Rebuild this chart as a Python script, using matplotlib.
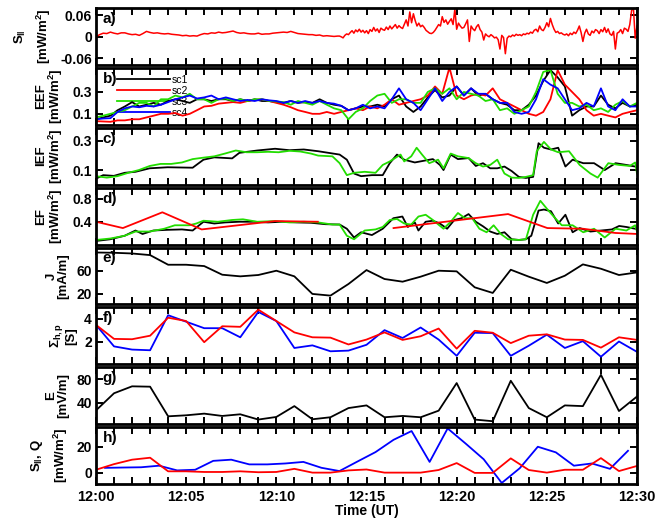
import numpy as np
import matplotlib
matplotlib.use("Agg")
import matplotlib.pyplot as plt
from matplotlib.ticker import FixedLocator, FuncFormatter

plt.rcParams['font.family'] = ['Liberation Sans', 'DejaVu Sans']
plt.rcParams['font.weight'] = 'bold'
plt.rcParams['mathtext.fontset'] = 'custom'
plt.rcParams['mathtext.rm'] = 'Liberation Sans:bold'
plt.rcParams['mathtext.bf'] = 'Liberation Sans:bold'
plt.rcParams['mathtext.it'] = 'Liberation Sans:bold'

# ---------------- data (time in minutes after 12:00 UT) ----------------
# a) S_parallel: quiet part sampled every 0.2 min, active part every 0.1 min
ta = np.concatenate([np.arange(68) * 0.2, 13.5 + np.arange(166) * 0.1])
sa = [0.0, 0.006, 0.010, 0.009, 0.013, 0.010, 0.008, 0.011, 0.011, 0.008,
      0.006, 0.007, 0.004, 0.009, 0.015, 0.012, 0.010, 0.011, 0.009, 0.008,
      0.009, 0.007, 0.006, 0.005, 0.003, 0.004, 0.002, 0.003, 0.002, 0.006,
      0.009, 0.008, 0.011, 0.010, 0.013, 0.011, 0.012, 0.014, 0.016, 0.012,
      0.010, 0.011, 0.009, 0.008, 0.008, 0.010, 0.007, 0.008, 0.008, 0.010,
      0.011, 0.012, 0.013, 0.012, 0.015, 0.012, 0.009, 0.008, 0.007, 0.006,
      0.006, 0.004, 0.005, 0.002, 0.003, 0.002, 0.001, 0.002,
      # 13.5 - 13.9
      0.002, 0.0, -0.003, 0.004, 0.008,
      # 14.0 - 29.9
      0.006, 0.012, 0.017, 0.010, 0.019, 0.014, 0.021, 0.013, 0.018, 0.011,
      0.017, 0.009, 0.020, 0.015, 0.026, 0.016, 0.022, 0.012, 0.024, 0.020,
      0.018, 0.027, 0.020, 0.030, 0.022, 0.028, 0.034, 0.024, 0.031, 0.026,
      0.023, 0.035, 0.047, 0.030, 0.069, 0.039, 0.064, 0.045, 0.030, 0.038,
      0.028, 0.032, 0.026, 0.018, 0.014, 0.010, 0.009, 0.012, 0.018, 0.026,
      0.034, 0.030, 0.056, 0.040, 0.047, 0.035, 0.043, 0.050, 0.034, 0.077,
      0.021, 0.038, 0.030, 0.024, 0.026, 0.036, 0.047, -0.013, 0.030, 0.022,
      0.017, 0.028, 0.034, 0.020, 0.013, -0.009, 0.008, 0.003, 0.0, 0.006,
      0.002, -0.003, -0.001, -0.008, -0.034, 0.004, -0.002, -0.047, -0.004, 0.002,
      0.0, 0.005, 0.002, 0.007, 0.004, 0.006, 0.003, 0.008, 0.006, 0.010,
      0.008, 0.013, 0.010, 0.018, 0.021, 0.014, 0.030, 0.020, 0.017, 0.026,
      0.039, 0.028, 0.051, 0.034, 0.021, 0.012, 0.015, 0.009, 0.011, 0.007,
      0.005, 0.008, 0.003, 0.010, 0.006, 0.013, 0.009, 0.018, 0.030, 0.012,
      -0.013, 0.010, 0.021, 0.008, 0.004, 0.016, 0.011, 0.020, 0.017, 0.009,
      0.020, 0.014, 0.026, 0.012, 0.022, 0.008, 0.004, 0.015, -0.034, 0.010,
      0.013, 0.020, 0.009, 0.024, 0.021, 0.015, 0.034, 0.073, 0.081, -0.004,
      # 30.0
      0.030]

# b) EEF, four spacecraft, sampled every 0.4 min
tb_n = 76
eef_sc1 = [0.05, 0.067, 0.083, 0.133, 0.167, 0.207, 0.167, 0.183, 0.2, 0.183, 0.217, 0.233, 0.217,
           0.2, 0.233, 0.233, 0.217, 0.233, 0.233, 0.217, 0.233, 0.217, 0.233, 0.217, 0.217, 0.207,
           0.2, 0.217, 0.2, 0.207, 0.2, 0.233, 0.2, 0.183, 0.173, 0.133, 0.15, 0.167, 0.167, 0.183,
           0.167, 0.233, 0.267, 0.167, 0.117, 0.167, 0.25, 0.317, 0.25, 0.267, 0.35, 0.267, 0.333,
           0.267, 0.283, 0.233, 0.2, 0.183, 0.133, 0.133, 0.183, 0.267, 0.4, 0.5, 0.433, 0.35,
           0.083, 0.133, 0.167, 0.167, 0.267, 0.183, 0.15, 0.2, 0.167, 0.183]
eef_sc2 = [0.033, 0.03, 0.027, 0.04, 0.04, 0.05, 0.05, 0.067, 0.083, 0.1, 0.1, 0.107, 0.083, 0.1,
           0.133, 0.167, 0.173, 0.193, 0.2, 0.207, 0.2, 0.217, 0.227, 0.233, 0.217, 0.2, 0.183,
           0.16, 0.133, 0.117, 0.1, 0.1, 0.117, 0.1, 0.117, 0.133, 0.15, 0.133, 0.167, 0.15, 0.183,
           0.233, 0.183, 0.2, 0.217, 0.233, 0.267, 0.35, 0.283, 0.523, 0.267, 0.233, 0.267, 0.283,
           0.267, 0.333, 0.233, 0.2, 0.167, 0.133, 0.1, 0.083, 0.117, 0.233, 0.5, 0.367, 0.3,
           0.233, 0.133, 0.083, 0.1, 0.083, 0.067, 0.1, 0.117, 0.133]
eef_sc3 = [0.067, 0.083, 0.1, 0.117, 0.133, 0.167, 0.2, 0.2, 0.167, 0.233, 0.233, 0.267, 0.25,
           0.283, 0.233, 0.233, 0.2, 0.233, 0.24, 0.217, 0.233, 0.217, 0.233, 0.233, 0.217, 0.213,
           0.207, 0.183, 0.217, 0.2, 0.183, 0.217, 0.183, 0.15, 0.133, 0.05, 0.117, 0.15, 0.217,
           0.267, 0.283, 0.2, 0.233, 0.233, 0.2, 0.2, 0.3, 0.333, 0.283, 0.333, 0.233, 0.3, 0.283,
           0.267, 0.217, 0.233, 0.133, 0.15, 0.1, 0.133, 0.167, 0.3, 0.483, 0.5, 0.283, 0.2, 0.2,
           0.167, 0.183, 0.133, 0.15, 0.117, 0.183, 0.217, 0.167, 0.2]
eef_sc4 = [0.05, 0.057, 0.06, 0.117, 0.15, 0.167, 0.16, 0.173, 0.167, 0.183, 0.207, 0.233, 0.25,
           0.267, 0.24, 0.25, 0.267, 0.233, 0.25, 0.233, 0.217, 0.227, 0.217, 0.233, 0.223, 0.217,
           0.2, 0.217, 0.2, 0.217, 0.2, 0.217, 0.2, 0.193, 0.173, 0.133, 0.15, 0.183, 0.15, 0.167,
           0.15, 0.233, 0.333, 0.233, 0.2, 0.133, 0.233, 0.333, 0.217, 0.3, 0.35, 0.267, 0.333,
           0.283, 0.283, 0.233, 0.2, 0.2, 0.117, 0.1, 0.117, 0.233, 0.417, 0.367, 0.333, 0.233,
           0.133, 0.15, 0.2, 0.167, 0.333, 0.167, 0.133, 0.233, 0.167, 0.167]

# c) IEF
tc_1 = [0, 0.40, 0.99, 1.59, 2.19, 2.98, 3.97, 5.36, 5.96, 6.56, 7.55, 7.95, 8.94, 9.93, 10.73,
        11.52, 12.32, 13.51, 13.91, 14.31, 14.70, 15.30, 15.90, 16.29, 16.69, 17.09, 17.68,
        18.28, 18.68, 19.07, 19.27, 19.67, 20.07, 20.66, 21.06, 21.46, 21.86, 22.25, 22.65,
        23.05, 23.45, 23.84, 24.24, 24.54, 24.84, 25.23, 25.63, 26.03, 26.43, 27.02, 27.62,
        28.21, 28.81, 29.41, 29.9]
ief_sc1 = [0.041, 0.065, 0.06, 0.081, 0.088, 0.112, 0.119, 0.116, 0.171, 0.187, 0.18, 0.218,
           0.234, 0.246, 0.236, 0.241, 0.229, 0.206, 0.171, 0.076, 0.058, 0.065, 0.065, 0.147,
           0.206, 0.171, 0.152, 0.166, 0.175, 0.135, 0.1, 0.206, 0.175, 0.182, 0.128, 0.147,
           0.112, 0.112, 0.124, 0.093, 0.053, 0.046, 0.053, 0.284, 0.253, 0.241, 0.253, 0.124,
           0.171, 0.147, 0.147, 0.1, 0.147, 0.135, 0.124]
tc_3 = [0, 0.6, 1.19, 1.79, 2.38, 2.98, 3.58, 4.17, 4.77, 5.36, 5.96, 6.56, 7.15, 7.75, 8.35,
        8.94, 9.54, 10.13, 10.73, 11.33, 11.92, 12.32, 13.11, 13.51, 13.91, 14.31, 14.9, 15.5,
        15.9, 16.29, 16.89, 17.09, 17.48, 17.78, 18.08, 18.48, 18.97, 19.27, 19.67, 20.07,
        20.66, 21.06, 21.46, 21.86, 22.25, 22.65, 23.05, 23.45, 23.84, 24.24, 24.44, 24.84,
        25.23, 25.63, 26.23, 26.82, 27.42, 27.82, 28.41, 29.01, 29.6, 29.9, 30.0]
ief_sc3 = [0.058, 0.048, 0.058, 0.081, 0.1, 0.128, 0.142, 0.142, 0.152, 0.175, 0.185, 0.194,
           0.213, 0.234, 0.222, 0.222, 0.225, 0.222, 0.232, 0.227, 0.213, 0.199, 0.194, 0.147,
           0.065, 0.081, 0.088, 0.081, 0.135, 0.159, 0.206, 0.159, 0.194, 0.253, 0.206, 0.147,
           0.171, 0.112, 0.213, 0.194, 0.182, 0.147, 0.124, 0.135, 0.171, 0.076, 0.048, 0.046,
           0.053, 0.065, 0.229, 0.293, 0.241, 0.222, 0.229, 0.135, 0.076, 0.048, 0.147, 0.135,
           0.128, 0.152, 0.076]

# d) EF
td_1 = [0, 0.79, 1.59, 2.19, 2.58, 3.18, 3.97, 4.77, 5.36, 5.96, 6.56, 7.15, 7.95, 8.74, 9.54,
        10.33, 11.13, 11.92, 12.72, 13.51, 13.91, 14.31, 14.7, 15.3, 15.9, 16.49, 16.99, 17.29,
        17.68, 17.88, 18.28, 18.68, 19.07, 19.47, 19.87, 20.27, 20.66, 21.06, 21.46, 21.86,
        22.25, 22.65, 23.05, 23.45, 23.84, 24.14, 24.54, 24.84, 25.23, 25.63, 26.03, 26.43,
        26.82, 27.42, 28.01, 28.61, 29.01, 29.41, 29.9]
ef_sc1 = [0.062, 0.092, 0.154, 0.246, 0.185, 0.246, 0.258, 0.265, 0.246, 0.4, 0.369, 0.388, 0.4,
          0.4, 0.388, 0.4, 0.388, 0.382, 0.357, 0.351, 0.277, 0.123, 0.215, 0.166, 0.277, 0.462,
          0.492, 0.308, 0.388, 0.246, 0.4, 0.418, 0.369, 0.277, 0.431, 0.462, 0.535, 0.4, 0.32,
          0.228, 0.185, 0.215, 0.092, 0.08, 0.092, 0.154, 0.597, 0.615, 0.585, 0.369, 0.523,
          0.215, 0.289, 0.228, 0.246, 0.265, 0.326, 0.308, 0.277]
td_3 = [0, 0.79, 1.59, 2.19, 2.98, 3.78, 4.37, 5.17, 5.56, 5.96, 6.76, 7.55, 8.15, 8.94, 9.93,
        10.73, 11.52, 12.32, 13.11, 13.51, 13.91, 14.31, 14.9, 15.5, 15.9, 16.29, 16.69, 17.09,
        17.48, 17.88, 18.28, 18.68, 19.27, 19.67, 20.07, 20.46, 20.86, 21.26, 21.66, 22.05,
        22.45, 22.85, 23.45, 23.84, 24.24, 24.64, 25.04, 25.43, 25.83, 26.43, 27.02, 27.62,
        28.21, 28.81, 29.41, 29.9, 30.0]
ef_sc3 = [0.08, 0.105, 0.154, 0.228, 0.228, 0.277, 0.338, 0.338, 0.369, 0.418, 0.4, 0.431,
          0.443, 0.4, 0.412, 0.388, 0.4, 0.388, 0.351, 0.351, 0.154, 0.092, 0.246, 0.265, 0.308,
          0.431, 0.449, 0.369, 0.351, 0.492, 0.523, 0.431, 0.277, 0.4, 0.554, 0.462, 0.462,
          0.277, 0.215, 0.338, 0.185, 0.092, 0.08, 0.092, 0.523, 0.769, 0.615, 0.474, 0.338,
          0.338, 0.215, 0.277, 0.123, 0.277, 0.246, 0.338, 0.228]
td_2a = [0, 1.49, 3.68, 5.86, 9.93, 12.3]
ef_sc2a = [0.40, 0.289, 0.566, 0.265, 0.412, 0.40]
td_2b = [16.5, 22.85, 25.03, 27.0, 28.8, 30.0]
ef_sc2b = [0.289, 0.535, 0.289, 0.277, 0.203, 0.185]

# e) J, one value per minute
te = list(range(31))
J = [91.4, 90.9, 89.7, 86.9, 70.3, 70.3, 68.0, 53.1, 50.3, 52.6, 60.0, 50.3, 20.0, 17.1, 37.1,
     61.1, 45.7, 41.1, 49.7, 60.0, 58.9, 31.4, 21.7, 61.7, 49.7, 38.9, 51.4, 70.9, 63.4, 52.6,
     57.1]

# f) conductances
sig_blue = [3.46, 1.57, 1.29, 1.23, 4.31, 3.74, 3.17, 3.17, 2.37, 4.6, 3.8, 1.43, 1.66, 1.14,
            1.2, 1.71, 3.0, 2.31, 3.23, 2.17, 0.74, 2.77, 2.74, 0.74, 1.63, 2.6, 1.43, 2.03,
            0.66, 2.0, 1.09]
sig_red = [3.46, 2.23, 2.2, 2.51, 4.09, 3.8, 1.94, 3.34, 3.29, 4.8, 3.8, 2.8, 2.37, 2.34, 1.74,
           2.17, 2.8, 2.14, 2.46, 3.14, 1.37, 2.94, 2.77, 1.86, 2.51, 2.63, 2.17, 2.14, 1.46,
           2.37, 2.14]

# g) E
E = [27.2, 56.1, 67.8, 67.2, 17.2, 18.9, 21.7, 17.8, 20.6, 11.7, 16.1, 34.4, 12.2, 15.6, 31.1,
     35.6, 15.6, 17.8, 15.6, 26.7, 73.3, 11.7, 8.9, 77.2, 31.1, 15.6, 35.6, 34.4, 87.2, 26.1,
     50.6]

# h) S_parallel (blue, half-minute offsets) and Q (red)
th_s = [k + 0.5 for k in range(30)]
h_s = [3.85, 4.1, 4.3, 5.5, 1.9, 2.4, 9.2, 10.1, 6.5, 6.5, 7.2, 8.4, 3.9, 1.4, 8.7, 15.9, 25.3,
       32.0, 8.4, 34.0, 22.4, 10.4, -7.7, 3.6, 20.0, 15.7, 5.5, 7.2, 3.1, 16.9]
h_q = [2.4, 6.7, 10.1, 11.6, 1.2, 1.2, 0.7, 0.7, 1.2, 0.5, 0.7, 3.1, 0.2, 0.2, 1.9, 2.6, 0.2,
       0.2, 0.2, 2.2, 7.5, 0.0, 0.0, 11.1, 2.2, 0.2, 2.4, 2.4, 11.3, 1.4, 5.3]

xtick_labels = ['12:00', '12:05', '12:10', '12:15', '12:20', '12:25', '12:30']

GREEN = '#22dd00'
LW = 1.3

# ---------------- figure ----------------
W, H = 670, 520
fig = plt.figure(figsize=(W / 100, H / 100), dpi=100)
left_px, right_px, top_px, bot_px = 96, 637, 8, 484
gap = 3
ph = (bot_px - top_px - 7 * gap) / 8
axes = []
for i in range(8):
    y0 = top_px + i * (ph + gap)
    ax = fig.add_axes([left_px / W, 1 - (y0 + ph) / H, (right_px - left_px) / W, ph / H])
    axes.append(ax)

ylims = [(-0.078, 0.08), (0.0, 0.52), (0.0, 0.39), (0.0, 1.0), (2, 100), (0, 5), (4, 100), (-8.5, 35)]
yticks = [[-0.06, 0, 0.06], [0.1, 0.3], [0.1, 0.3], [0.4, 0.8], [20, 60], [2, 4], [40, 80], [0, 20]]
yfmt = [lambda v: ('%.2f' % v) if v != 0 else '0',
        lambda v: '%.1f' % v, lambda v: '%.1f' % v, lambda v: '%.1f' % v,
        lambda v: '%d' % v, lambda v: '%d' % v, lambda v: '%d' % v, lambda v: '%d' % v]
ylabels = ['$\\mathbf{S_{\\Vert}}$\n[mW/m$^2$]', 'EEF\n[mW/m$^2$]', 'IEF\n[mW/m$^2$]',
           'EF\n[mW/m$^2$]', 'J\n[mA/m]', '$\\Sigma_{\\mathbf{h,p}}$\n[S]', 'E\n[mV/m]',
           '$\\mathbf{S_{\\Vert}}$, Q\n[mW/m$^2$]']
letters = ['a)', 'b)', 'c)', 'd)', 'e)', 'f)', 'g)', 'h)']

# a
axes[0].plot(ta, sa, color='red', lw=1.1)
# b
tb = np.linspace(0, 30, tb_n)
lb1, = axes[1].plot(tb, eef_sc1, color='black', lw=LW, label='sc1')
lb2, = axes[1].plot(tb, eef_sc2, color='red', lw=LW, label='sc2')
lb3, = axes[1].plot(tb, eef_sc3, color=GREEN, lw=LW, label='sc3')
lb4, = axes[1].plot(tb, eef_sc4, color='blue', lw=LW, label='sc4')
leg = axes[1].legend(handles=[lb1, lb2, lb3, lb4], loc='upper left',
                     bbox_to_anchor=(0.03, 0.97), frameon=False,
                     handlelength=5.0, labelspacing=0.1, borderpad=0, handletextpad=0.2,
                     prop={'weight': 'normal', 'size': 7.5})
leg.set_zorder(1)
# c
axes[2].plot(tc_1, ief_sc1, color='black', lw=LW)
axes[2].plot(tc_3, ief_sc3, color=GREEN, lw=LW)
# d
axes[3].plot(td_1, ef_sc1, color='black', lw=LW)
axes[3].plot(td_3, ef_sc3, color=GREEN, lw=LW)
axes[3].plot(td_2a, ef_sc2a, color='red', lw=LW)
axes[3].plot(td_2b, ef_sc2b, color='red', lw=LW)
# e
axes[4].plot(te, J, color='black', lw=LW)
# f
axes[5].plot(te, sig_blue, color='blue', lw=LW)
axes[5].plot(te, sig_red, color='red', lw=LW)
# g
axes[6].plot(te, E, color='black', lw=LW)
# h
axes[7].plot(th_s, h_s, color='blue', lw=LW)
axes[7].plot(te, h_q, color='red', lw=LW)

for i, ax in enumerate(axes):
    ax.set_xlim(0, 30)
    ax.set_ylim(*ylims[i])
    ax.xaxis.set_major_locator(FixedLocator(list(range(31))))
    ax.yaxis.set_major_locator(FixedLocator(yticks[i]))
    f = yfmt[i]
    ax.yaxis.set_major_formatter(FuncFormatter(lambda v, p, f=f: f(v)))
    ax.tick_params(axis='both', which='both', direction='in', top=True, right=True,
                   length=5, width=1.4, labelsize=10, pad=3)
    for sp in ax.spines.values():
        sp.set_linewidth(2.0)
    ls = 1.5 if i in (0, 7) else 1.0
    ax.set_ylabel(ylabels[i], fontsize=9.5, fontweight='bold', labelpad=5, linespacing=ls)
    ax.text(0.012, 0.93, letters[i], transform=ax.transAxes, ha='left', va='top',
            fontsize=11, fontweight='bold')
    if i < 7:
        ax.tick_params(axis='x', labelbottom=False)
    else:
        ax.tick_params(axis='x', labelsize=10.5, pad=4)
        ax.xaxis.set_major_formatter(FuncFormatter(
            lambda v, p: xtick_labels[int(round(v)) // 5] if int(round(v)) % 5 == 0 else ''))
        ax.set_xlabel('Time (UT)', fontsize=10, fontweight='bold', labelpad=0)

fig.savefig('out.png', dpi=100)
